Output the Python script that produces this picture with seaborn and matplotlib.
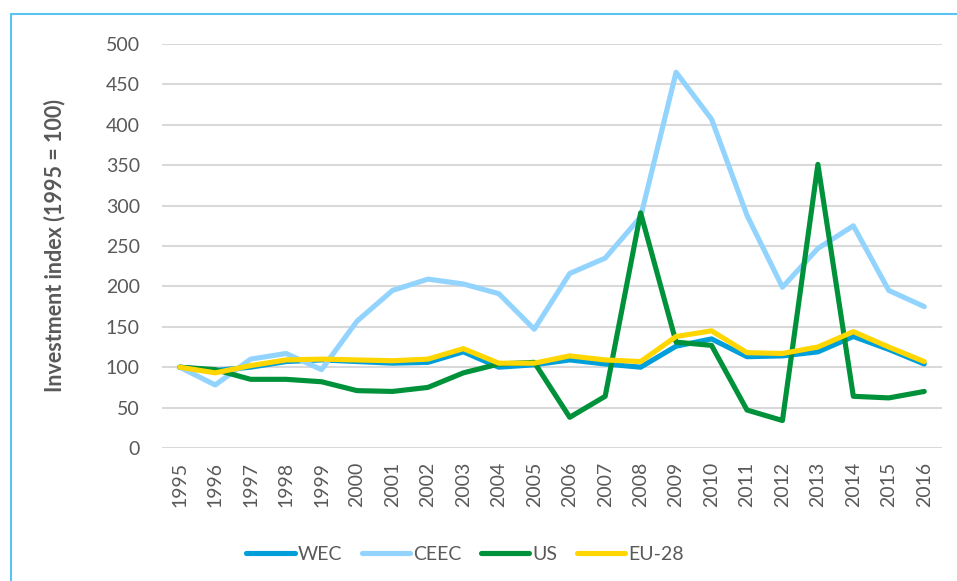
import pandas as pd
import matplotlib.pyplot as plt
import seaborn as sns
from matplotlib.lines import Line2D

# ----------------------------------------------------------
# Data
# ----------------------------------------------------------
years = list(range(1995, 2017))

wec = [100, 96, 100, 107, 109, 107, 105, 106, 119, 100, 103, 109,
       104, 100, 126, 135, 113, 114, 119, 138, 122, 104]
ceec = [100, 78, 110, 117, 97, 157, 195, 209, 203, 191, 147, 216,
        235, 286, 465, 407, 288, 199, 247, 275, 195, 175]
us = [100, 97, 85, 85, 82, 71, 70, 75, 93, 104, 106, 38,
      64, 291, 131, 127, 47, 34, 351, 64, 62, 70]
eu28 = [100, 93, 102, 109, 110, 109, 108, 110, 123, 105, 105, 114,
        109, 107, 138, 145, 118, 117, 125, 144, 125, 107]

series_names = ["WEC", "CEEC", "US", "EU-28"]
colors = ["#009FDA", "#92D4FE", "#00923A", "#FFD600"]

df = pd.DataFrame({
    "year": years * 4,
    "value": wec + ceec + us + eu28,
    "series": [s for s in series_names for _ in years],
})

# ----------------------------------------------------------
# Plot
# ----------------------------------------------------------
sns.set_theme(style="white")
plt.rcParams["font.family"] = ["Lato", "DejaVu Sans"]

fig = plt.figure(figsize=(9.57, 5.81), dpi=100)
ax = fig.add_axes([0.1693, 0.2289, 0.815, 0.6954])

sns.lineplot(data=df, x="year", y="value", hue="series", hue_order=series_names,
             palette=colors, linewidth=3.7, ax=ax, legend=False, zorder=3)

ax.set_xlim(1994.5, 2016.5)
ax.set_ylim(0, 500)
ax.set_yticks(range(0, 501, 50))
ax.set_xticks(years)
ax.set_xticklabels([str(y) for y in years], rotation=90)
ax.grid(axis="y", color="#D9D9D9", linewidth=1.5, zorder=0)
ax.grid(axis="x", visible=False)
for sp in ax.spines.values():
    sp.set_visible(False)

ax.tick_params(axis="y", length=0, pad=16, labelsize=14, labelcolor="#595959")
ax.tick_params(axis="x", length=0, pad=10, labelsize=14, labelcolor="#595959")

ax.set_xlabel("")
ax.set_ylabel("Investment index (1995 = 100)", fontsize=15.5, fontweight="bold",
              color="#595959")
ax.yaxis.set_label_coords(-0.124, 0.5)

handles = [Line2D([0], [0], color=c, linewidth=3.7, solid_capstyle="round")
           for c in colors]
fig.legend(handles, series_names, loc="center", bbox_to_anchor=(0.486, 0.046),
           ncol=4, frameon=False, fontsize=14, handlelength=2.5,
           handletextpad=0.15, columnspacing=1.0, labelcolor="#595959")

# light blue frame (top and left edges)
fig.add_artist(Line2D([11 / 957, 1], [1 - 14 / 581, 1 - 14 / 581],
                      transform=fig.transFigure, color="#5BC4EE", linewidth=1.5))
fig.add_artist(Line2D([11 / 957, 11 / 957], [0, 1 - 14 / 581],
                      transform=fig.transFigure, color="#5BC4EE", linewidth=1.5))

fig.savefig("out.png", dpi=100)
